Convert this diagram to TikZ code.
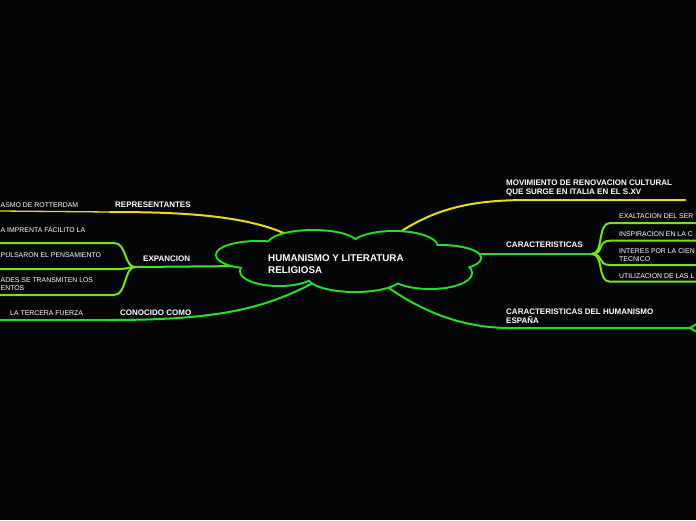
\documentclass[tikz,border=0pt]{standalone}
\usepackage{fontspec}
\setmainfont{Liberation Sans}
\definecolor{bg}{RGB}{4,5,7}
\definecolor{cgreen}{RGB}{34,226,34}
\definecolor{clime}{RGB}{118,228,28}
\definecolor{cmid}{RGB}{70,228,32}
\definecolor{cyell}{RGB}{236,222,12}
\begin{document}
\begin{tikzpicture}[x=1pt,y=-1pt,
  lbl/.style={text=white, inner sep=0pt, anchor=west, align=left,
    font=\fontsize{8}{9}\selectfont\bfseries},
  leaf/.style={text=white, inner sep=0pt, anchor=west, align=left,
    font=\fontsize{6.9}{8.5}\selectfont},
  rootlbl/.style={text=white, inner sep=0pt, anchor=west, align=left,
    font=\fontsize{9.8}{12}\selectfont\bfseries},
  mainline/.style={line width=2pt, line cap=round},
  leafline/.style={line width=1.3pt},
  cloudline/.style={draw=cgreen, line width=4pt}]
\path[use as bounding box, clip] (0,0) rectangle (696,520);
\fill[bg] (0,0) rectangle (696,520);

% coordinates
\coordinate (cTL) at (292,237);
\coordinate (cL) at (246,266);
\coordinate (cBL) at (313,283);
\coordinate (cTR) at (397,234);
\coordinate (cR) at (476,254);
\coordinate (cB) at (386,286);
\coordinate (repE) at (110,212);
\coordinate (expJ) at (135,267);
\coordinate (conE) at (110,320);
\coordinate (movE) at (530,200);
\coordinate (movF) at (685,200);
\coordinate (carJ) at (592,254);
\coordinate (espS) at (510,328);
\coordinate (espJ) at (689,328);

% left yellow branch
\draw[mainline, cyell] (cTL) .. controls (250,215) and (180,212) .. (repE);
\draw[leafline, cyell] (repE) -- (0,211);
% expancion
\draw[mainline, cmid] (cL) -- (expJ);
\draw[mainline, clime] (0,243) -- (114,243) .. controls (127,243) and (124,267) .. (expJ);
\draw[mainline, clime] (0,269) -- (120,269) .. controls (127,269) and (129,267) .. (expJ);
\draw[mainline, clime] (0,295) -- (114,295) .. controls (127,295) and (124,267) .. (expJ);
% conocido como
\draw[mainline, cgreen] (cBL) .. controls (265,308) and (220,320) .. (conE);
\draw[leafline, cgreen] (conE) -- (0,320);
% right yellow
\draw[mainline, cyell] (cTR) .. controls (440,205) and (480,200) .. (movE) -- (movF);
% caracteristicas
\draw[mainline, cgreen] (cR) -- (carJ);
\foreach \yy in {223,240.7,265,281.7}
  \draw[mainline, clime] (carJ) .. controls (604,254) and (597,\yy) .. (610,\yy) -- (700,\yy);
% espana
\draw[mainline, cgreen] (cB) .. controls (420,310) and (460,328) .. (espS) -- (espJ);
\draw[mainline, cgreen] (espJ) .. controls (692,328) and (693,325) .. (700,323);
\draw[mainline, cgreen] (espJ) .. controls (692,328) and (693,331) .. (700,333);

% cloud
\foreach \cx/\cy/\rx/\ry in {258/255/41/13, 313/245/45/14, 394/247/43/15, 440/258/40/12,
  430/273/41/15, 355/276/47/15, 279/271/38/14}
  \draw[cloudline] (\cx,\cy) ellipse [x radius=\rx pt, y radius=\ry pt];
\foreach \cx/\cy/\rx/\ry in {258/255/41/13, 313/245/45/14, 394/247/43/15, 440/258/40/12,
  430/273/41/15, 355/276/47/15, 279/271/38/14, 348/261/90/18}
  \fill[bg] (\cx,\cy) ellipse [x radius=\rx pt, y radius=\ry pt];

% texts
\node[rootlbl] (root) at (268,264) {HUMANISMO Y LITERATURA\\RELIGIOSA};
\node[lbl] (rep) at (115,205) {REPRESENTANTES};
\node[leaf] (eras) at (0.5,205) {ASMO DE ROTTERDAM};
\node[lbl] (exp) at (143,259) {EXPANCION};
\node[leaf] (imp) at (0.5,230) {A IMPRENTA FACILITO LA};
\node[leaf] (pul) at (0.5,255) {PULSARON EL PENSAMIENTO};
\node[leaf] (ades) at (0.5,284) {ADES SE TRANSMITEN LOS\\ENTOS};
\node[lbl] (con) at (120,313) {CONOCIDO COMO};
\node[leaf] (ter) at (10,313) {LA TERCERA FUERZA};
\node[lbl] (mov) at (506,188) {MOVIMIENTO DE RENOVACION CULTURAL\\QUE SURGE EN ITALIA EN EL S.XV};
\node[lbl] (car) at (506,245) {CARACTERISTICAS};
\node[leaf] (exa) at (619,216) {EXALTACION DEL SER};
\node[leaf] (ins) at (619,234) {INSPIRACION EN LA C};
\node[leaf] (int) at (619,255) {INTERES POR LA CIEN\\TECNICO};
\node[leaf] (uti) at (619,276) {UTILIZACION DE LAS L};
\node[lbl] (esp) at (506,316.5) {CARACTERISTICAS DEL HUMANISMO\\ESPAÑA};
\end{tikzpicture}
\end{document}
